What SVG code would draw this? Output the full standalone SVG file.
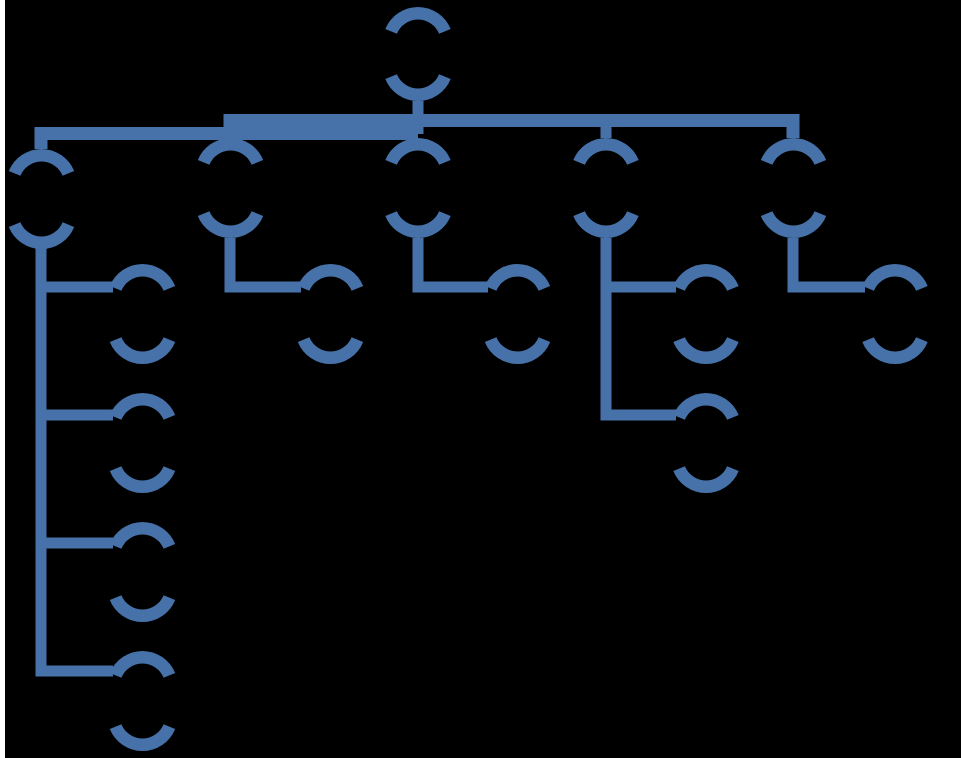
<svg xmlns="http://www.w3.org/2000/svg" xmlns:xlink="http://www.w3.org/1999/xlink" width="961" height="758" viewBox="0 0 961 758">
  <style>
    .arc { fill: none; stroke: #4672a9; stroke-width: 12.5; stroke-linecap: butt; }
    .ln { fill: none; stroke: #4672a9; stroke-width: 11; stroke-linejoin: miter; stroke-linecap: butt; }
    .bar { fill: none; stroke: #4672a9; stroke-width: 13; stroke-linejoin: miter; }
  </style>
  <defs>
    <g id="nd">
      <path class="arc" d="M-26.89,24.39 A29,29 0 0 1 26.89,24.39"/>
      <path class="arc" d="M-26.89,75.61 A29,29 0 0 0 26.89,75.61"/>
    </g>
  </defs>
  <rect x="0" y="0" width="961" height="758" fill="#000000"/>
  <rect x="0" y="0" width="5" height="758" fill="#ffffff"/>

  <g id="connectors">
    <path class="ln" d="M418,101 V134"/>
    <path class="bar" d="M230,138 V120.5 H793 V138"/>
    <path class="ln" d="M606,120 V138"/>
    <path class="bar" d="M418,133.5 H41 V149"/>
    <path class="ln" d="M41,248 V671 H113 M41,287 H113 M41,415 H113 M41,543 H113"/>
    <path class="ln" d="M230,238 V287 H301"/>
    <path class="ln" d="M418,238 V287 H488"/>
    <path class="ln" d="M606,238 V415 H676 M606,287 H676"/>
    <path class="ln" d="M793,238 V287 H865"/>
  </g>

  <g id="root">
    <path class="arc" d="M391.11,31.39 A29,29 0 0 1 444.89,31.39"/>
    <path class="arc" d="M391.11,76.61 A29,29 0 0 0 444.89,76.61"/>
  </g>

  <g id="n1"><use xlink:href="#nd" transform="translate(41.5,149)"/></g>
  <g id="n2"><use xlink:href="#nd" transform="translate(230.5,138)"/></g>
  <g id="n3"><use xlink:href="#nd" transform="translate(418,138)"/></g>
  <g id="n4"><use xlink:href="#nd" transform="translate(606,138)"/></g>
  <g id="n5"><use xlink:href="#nd" transform="translate(793.5,138)"/></g>

  <g id="n1a"><use xlink:href="#nd" transform="translate(142.5,264)"/></g>
  <g id="n1b"><use xlink:href="#nd" transform="translate(142.5,393)"/></g>
  <g id="n1c"><use xlink:href="#nd" transform="translate(142.5,522)"/></g>
  <g id="n1d"><use xlink:href="#nd" transform="translate(142.5,651)"/></g>
  <g id="n2a"><use xlink:href="#nd" transform="translate(330.5,264)"/></g>
  <g id="n3a"><use xlink:href="#nd" transform="translate(517.5,264)"/></g>
  <g id="n4a"><use xlink:href="#nd" transform="translate(706,264)"/></g>
  <g id="n4b"><use xlink:href="#nd" transform="translate(706,393)"/></g>
  <g id="n5a"><use xlink:href="#nd" transform="translate(895,264)"/></g>
</svg>
